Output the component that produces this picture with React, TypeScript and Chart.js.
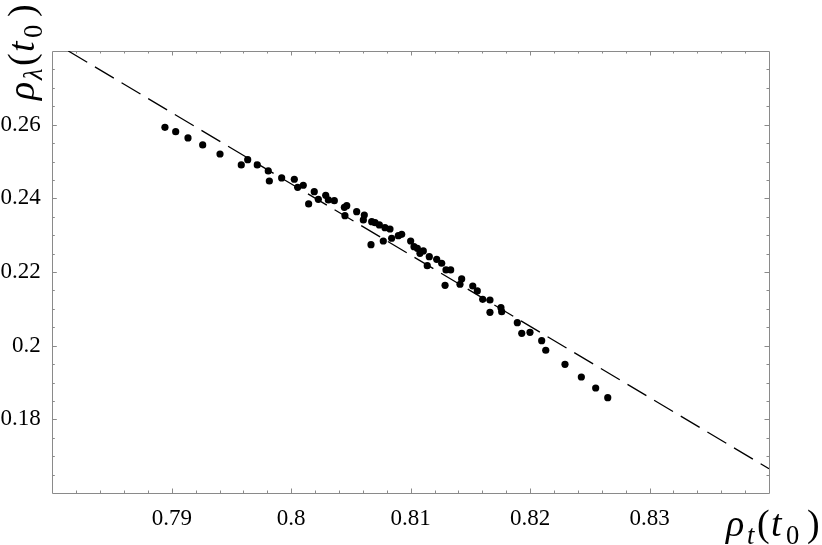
import React, { useEffect, useRef } from 'react';
import { Chart, registerables } from 'chart.js';

Chart.register(...registerables);

// Scatter data: rho_t(t0) vs rho_lambda(t0)
const rhoT = [
  0.78943, 0.79033, 0.79136, 0.79259, 0.79404, 0.79636, 0.79582, 0.79716, 0.79808, 0.79817,
  0.7992, 0.80026, 0.80054, 0.80101, 0.80193, 0.80227, 0.80146, 0.80289, 0.80311, 0.80361,
  0.80445, 0.80465, 0.8045, 0.80548, 0.80612, 0.80604, 0.80674, 0.80668, 0.80702, 0.80738,
  0.80785, 0.80827, 0.80771, 0.80841, 0.80897, 0.80925, 0.81, 0.81028, 0.81056, 0.81078,
  0.81106, 0.81156, 0.81139, 0.81218, 0.8126, 0.81296, 0.81335, 0.81288, 0.81427, 0.81413,
  0.8152, 0.81558, 0.81603, 0.81664, 0.81664, 0.81756, 0.81762, 0.81893, 0.8193, 0.81999,
  0.82097, 0.82131, 0.82292, 0.82429, 0.82549, 0.8265,
];
const rhoLambda = [
  0.25929, 0.2581, 0.25639, 0.25449, 0.25204, 0.2505, 0.24906, 0.24906, 0.24743, 0.24471,
  0.24553, 0.24518, 0.243, 0.24355, 0.24181, 0.23974, 0.23847, 0.24083, 0.23956, 0.23937,
  0.23757, 0.23801, 0.23529, 0.23638, 0.23548, 0.23413, 0.23366, 0.22742, 0.23339, 0.23277,
  0.23203, 0.23168, 0.22842, 0.22916, 0.22986, 0.23024, 0.22842, 0.22688, 0.22644, 0.22508,
  0.22571, 0.22416, 0.22172, 0.22345, 0.22237, 0.22055, 0.22055, 0.21639, 0.21811, 0.21667,
  0.2162, 0.21485, 0.21259, 0.2124, 0.20906, 0.21031, 0.20923, 0.20624, 0.20336, 0.20363,
  0.20135, 0.19875, 0.19494, 0.1915, 0.18851, 0.18588,
];

// Dashed reference line endpoints
const fitX = [0.78134, 0.84];
const fitY = [0.28, 0.1666];

// Axis ranges and ticks
const xMin = 0.78;
const xMax = 0.84;
const yMin = 0.16;
const yMax = 0.28;
const xTickLabels = [0.79, 0.8, 0.81, 0.82, 0.83];
const yTickLabels = [0.18, 0.2, 0.22, 0.24, 0.26];
const xMinorStep = 0.002;
const yMinorStep = 0.005;
const xMajorEvery = 5;
const yMajorEvery = 4;

type Piece = { t: string; italic?: boolean; sub?: boolean; off: number };

const xTitle: Piece[] = [
  { t: 'ρ', italic: true, off: 0 },
  { t: 't', italic: true, sub: true, off: 21 },
  { t: '(', off: 31 },
  { t: 't', italic: true, off: 45 },
  { t: '0', sub: true, off: 60 },
  { t: ')', off: 81 },
];
const yTitle: Piece[] = [
  { t: 'ρ', italic: true, off: 0 },
  { t: 'λ', italic: true, sub: true, off: 20 },
  { t: '(', off: 34 },
  { t: 't', italic: true, off: 48 },
  { t: '0', sub: true, off: 62 },
  { t: ')', off: 83 },
];

const SERIF = "'Liberation Serif', 'Times New Roman', serif";

function drawPieces(ctx: CanvasRenderingContext2D, pieces: Piece[], size: number) {
  for (const p of pieces) {
    const fs = p.sub ? size * 0.7 : size;
    ctx.font = `${p.italic ? 'italic ' : ''}${fs}px ${SERIF}`;
    ctx.fillText(p.t, p.off, p.sub ? size * 0.22 : 0);
  }
}

function labelFor(list: number[]) {
  return (v: number | string) => {
    const n = Number(v);
    const hit = list.find((t) => Math.abs(t - n) < 1e-7);
    return hit === undefined ? null : String(hit);
  };
}

const framePlugin = {
  id: 'frameTicks',
  beforeDatasetsDraw(chart: any) {
    const { ctx, chartArea } = chart;
    const { left, right, top, bottom } = chartArea;
    const xs = chart.scales.x;
    const ys = chart.scales.y;
    ctx.save();
    ctx.strokeStyle = '#8a8a8a';
    ctx.lineWidth = 1;
    ctx.beginPath();
    ctx.rect(Math.round(left) + 0.5, Math.round(top) + 0.5, Math.round(right - left), Math.round(bottom - top));
    ctx.stroke();
    ctx.beginPath();
    const nx = Math.round((xMax - xMin) / xMinorStep);
    for (let i = 1; i < nx; i++) {
      const px = Math.round(xs.getPixelForValue(xMin + i * xMinorStep)) + 0.5;
      const len = i % xMajorEvery === 0 ? 4.5 : 2.5;
      ctx.moveTo(px, bottom);
      ctx.lineTo(px, bottom - len);
      ctx.moveTo(px, top);
      ctx.lineTo(px, top + len);
    }
    const ny = Math.round((yMax - yMin) / yMinorStep);
    for (let j = 1; j < ny; j++) {
      const py = Math.round(ys.getPixelForValue(yMin + j * yMinorStep)) + 0.5;
      const len = j % yMajorEvery === 0 ? 4.5 : 2.5;
      ctx.moveTo(left, py);
      ctx.lineTo(left + len, py);
      ctx.moveTo(right, py);
      ctx.lineTo(right - len, py);
    }
    ctx.stroke();
    ctx.restore();
  },
  afterDraw(chart: any) {
    const { ctx } = chart;
    ctx.save();
    ctx.fillStyle = '#000';
    ctx.textBaseline = 'alphabetic';
    ctx.textAlign = 'left';
    // x title at bottom right
    ctx.save();
    ctx.translate(726, 536);
    drawPieces(ctx, xTitle, 38);
    ctx.restore();
    // y title rotated at top left
    ctx.save();
    ctx.translate(34, 100);
    ctx.rotate(-Math.PI / 2);
    drawPieces(ctx, yTitle, 38);
    ctx.restore();
    ctx.restore();
  },
};

export default function App() {
  const ref = useRef<HTMLCanvasElement | null>(null);
  useEffect(() => {
    document.body.style.margin = '0';
    const canvas = ref.current;
    if (!canvas) return;
    const points = rhoT.map((x, i) => ({ x, y: rhoLambda[i] }));
    const line = fitX.map((x, i) => ({ x, y: fitY[i] }));
    const chart = new Chart(canvas, {
      type: 'scatter',
      data: {
        datasets: [
          {
            type: 'line',
            data: line,
            borderColor: '#000',
            borderWidth: 1.3,
            borderDash: [22, 9],
            pointRadius: 0,
            fill: false,
            tension: 0,
          } as any,
          {
            data: points,
            backgroundColor: '#000',
            borderColor: '#000',
            borderWidth: 0,
            pointRadius: 3.6,
            pointHoverRadius: 3.6,
          },
        ],
      },
      options: {
        responsive: false,
        animation: false,
        events: [],
        layout: { padding: { left: 0, top: 51, right: 53, bottom: 0 } },
        plugins: { legend: { display: false }, tooltip: { enabled: false } },
        scales: {
          x: {
            type: 'linear',
            position: 'bottom',
            min: xMin,
            max: xMax,
            grid: { display: false, drawTicks: false },
            border: { display: false },
            ticks: {
              stepSize: 0.01,
              autoSkip: false,
              maxRotation: 0,
              padding: 12,
              color: '#000',
              font: { family: SERIF, size: 23 },
              callback: labelFor(xTickLabels) as any,
            },
            afterFit: (s: any) => {
              s.height = 52;
            },
          },
          y: {
            type: 'linear',
            position: 'left',
            min: yMin,
            max: yMax,
            grid: { display: false, drawTicks: false },
            border: { display: false },
            ticks: {
              stepSize: 0.02,
              autoSkip: false,
              padding: 11.5,
              color: '#000',
              font: { family: SERIF, size: 23 },
              callback: labelFor(yTickLabels) as any,
            },
            afterFit: (s: any) => {
              s.width = 52.3;
            },
          },
        },
      },
      plugins: [framePlugin],
    });
    return () => chart.destroy();
  }, []);
  return <canvas ref={ref} width={822} height={545} style={{ display: 'block' }} />;
}
